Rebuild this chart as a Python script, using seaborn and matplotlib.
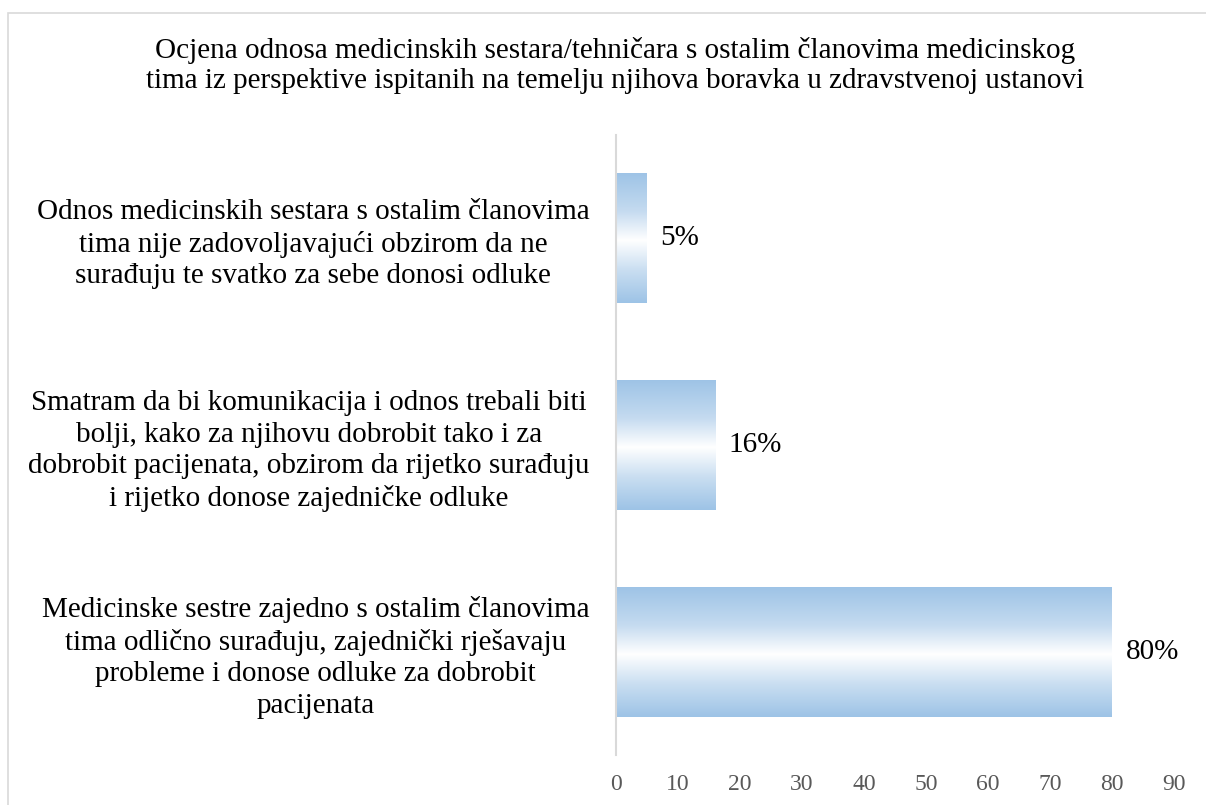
import matplotlib
matplotlib.use("Agg")
import matplotlib.pyplot as plt
import seaborn as sns
import numpy as np
import pandas as pd
from matplotlib.colors import LinearSegmentedColormap
from matplotlib.patches import Rectangle

categories = [
    "Odnos medicinskih sestara s ostalim članovima\ntima nije zadovoljavajući obzirom da ne\nsurađuju te svatko za sebe donosi odluke",
    "Smatram da bi komunikacija i odnos trebali biti\nbolji, kako za njihovu dobrobit tako i za\ndobrobit pacijenata, obzirom da rijetko surađuju\ni rijetko donose zajedničke odluke",
    "Medicinske sestre zajedno s ostalim članovima\ntima odlično surađuju, zajednički rješavaju\nprobleme i donose odluke za dobrobit\npacijenata",
]
values = [5, 16, 80]
value_labels = ["5%", "16%", "80%"]
x_ticks = [0, 10, 20, 30, 40, 50, 60, 70, 80, 90]
title = ("Ocjena odnosa medicinskih sestara/tehničara s ostalim članovima medicinskog\n"
         "tima iz perspektive ispitanih na temelju njihova boravka u zdravstvenoj ustanovi")

sns.set_theme(style="white")
plt.rcParams['font.family'] = ['Liberation Serif', 'DejaVu Serif']

W, H = 1206, 805
FS = 21
fig = plt.figure(figsize=(W / 100, H / 100), dpi=100)
fig.patch.set_facecolor("white")
ax = fig.add_axes([616 / W, 50 / H, (1174 - 616) / W, (755 - 135) / H])

df = pd.DataFrame({"cat": categories, "val": values})
sns.barplot(data=df, x="val", y="cat", orient="h", ax=ax, width=0.63,
            color="#9dc3e6", edgecolor="none", linewidth=0)

ax.set_xlim(0, 90)
ylim = ax.get_ylim()

cmap = LinearSegmentedColormap.from_list(
    "grad", [(0.0, "#9dc3e6"), (0.3, "#c5dbf0"), (0.52, "#ffffff"), (0.75, "#c9def1"), (1.0, "#9dc3e6")])
grad = np.linspace(0, 1, 256).reshape(-1, 1)
for p in ax.patches:
    x0, y0 = p.get_x(), p.get_y()
    w, h = p.get_width(), p.get_height()
    im = ax.imshow(grad, cmap=cmap, aspect="auto",
                   extent=[x0, x0 + w, y0 + h, y0], origin="upper", zorder=2)
    im.set_clip_path(p)
    p.set_facecolor("none")

for p, lab in zip(ax.patches, value_labels):
    ax.text(p.get_x() + p.get_width() + 2.2, p.get_y() + p.get_height() / 2, lab,
            ha="left", va="center", fontsize=FS, color="#000000", zorder=3)

ax.set_ylim(ylim)
ax.set_xticks(x_ticks)
ax.set_xticklabels([str(t) for t in x_ticks], fontsize=17, color="#595959")
ax.tick_params(axis="x", length=0, pad=14)
ax.tick_params(axis="y", length=0, pad=19, labelsize=FS, labelcolor="#000000")
for t in ax.get_yticklabels():
    t.set_multialignment("center")
    t.set_linespacing(1.28)
ax.set_xlabel("")
ax.set_ylabel("")
for s in ["top", "right", "bottom"]:
    ax.spines[s].set_visible(False)
ax.spines["left"].set_color("#d9d9d9")
ax.spines["left"].set_linewidth(1.5)
ax.grid(False)

fig.text(615 / W, 1 - 65 / H, title, ha="center", va="center", fontsize=FS,
         color="#000000", linespacing=1.2)

fig.patches.append(Rectangle((8 / W, -0.05), 1.2, 1 - 13 / H + 0.05, transform=fig.transFigure,
                             facecolor="none", edgecolor="#d9d9d9", linewidth=1.2, zorder=0))

fig.savefig("out.png", dpi=100, facecolor="white")
